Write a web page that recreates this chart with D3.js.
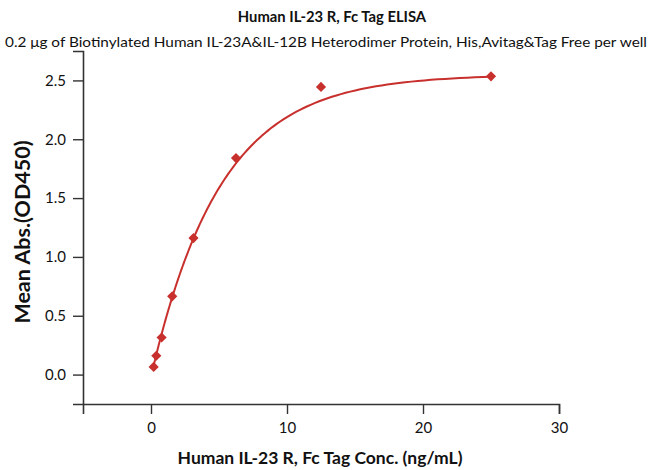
<!DOCTYPE html>
<html>
<head>
<meta charset="utf-8">
<script src="https://cdn.jsdelivr.net/npm/d3@7"></script>
<style>
  body { margin: 0; background: #fff; }
  text { font-family: Lato, "Open Sans", sans-serif; fill: #111; }
</style>
</head>
<body>
<div id="chart"></div>
<script>
// Data
var conc = [0.195, 0.39, 0.78, 1.56, 3.125, 6.25, 12.5, 25];
var meanAbs = [0.065, 0.16, 0.315, 0.665, 1.16, 1.84, 2.445, 2.535];
var xTicks = [0, 10, 20, 30];
var yTicks = [0.0, 0.5, 1.0, 1.5, 2.0, 2.5];
// fitted curve parameters (y = y0 + A * (1 - exp(-x / t)))
var fitY0 = -0.02, fitA = 2.57, fitT = 5.1;

var width = 651, height = 470;
var red = "#c8302d";

var svg = d3.select("#chart").append("svg")
    .attr("width", width)
    .attr("height", height);

var x = d3.scaleLinear().domain([-5, 30]).range([83, 559]);
var y = d3.scaleLinear().domain([-0.25, 2.75]).range([404, 51]);

// titles
svg.append("text")
    .attr("x", 332).attr("y", 22)
    .attr("text-anchor", "middle")
    .style("font-weight", "bold").style("font-size", "14.8px")
    .text("Human IL-23 R, Fc Tag ELISA");

svg.append("text")
    .attr("x", 5).attr("y", 47)
    .attr("textLength", 642).attr("lengthAdjust", "spacingAndGlyphs")
    .style("font-size", "13.5px")
    .text("0.2 \u03bcg of Biotinylated Human IL-23A&IL-12B Heterodimer Protein, His,Avitag&Tag Free per well");

// x axis
var xAxis = svg.append("g").attr("transform", "translate(0,404)");
xAxis.call(d3.axisBottom(x).tickValues(d3.range(-5, 31, 5)).tickSize(5).tickFormat(""));
xAxis.call(d3.axisBottom(x).tickValues(xTicks).tickSize(10).tickPadding(8)
    .tickFormat(d3.format("d")));
xAxis.selectAll("path.domain").attr("stroke", "#333").attr("stroke-width", 1.6);
xAxis.selectAll("line").attr("stroke", "#333").attr("stroke-width", 1.4);
xAxis.selectAll("text").style("font-size", "15px").attr("fill", "#111")
    .style("font-family", "Lato, sans-serif");

// y axis
var yAxis = svg.append("g").attr("transform", "translate(83,0)");
yAxis.call(d3.axisLeft(y).tickValues(d3.range(-0.25, 2.76, 0.25)).tickSize(5).tickFormat(""));
yAxis.call(d3.axisLeft(y).tickValues(yTicks).tickSize(10).tickPadding(7)
    .tickFormat(d3.format(".1f")));
yAxis.selectAll("path.domain").attr("stroke", "#333").attr("stroke-width", 1.6);
yAxis.selectAll("line").attr("stroke", "#333").attr("stroke-width", 1.4);
yAxis.selectAll("text").style("font-size", "15px").attr("fill", "#111")
    .style("font-family", "Lato, sans-serif");

// axis titles
svg.append("text")
    .attr("x", 320).attr("y", 464)
    .attr("text-anchor", "middle")
    .style("font-weight", "bold").style("font-size", "17.5px")
    .text("Human IL-23 R, Fc Tag Conc. (ng/mL)");

svg.append("text")
    .attr("transform", "translate(30,232) rotate(-90)")
    .attr("text-anchor", "middle")
    .style("font-weight", "bold").style("font-size", "21.5px")
    .text("Mean Abs.(OD450)");

// fitted curve
var fitX = d3.range(0, 201).map(function(i) {
    return conc[0] * Math.pow(conc[conc.length - 1] / conc[0], i / 200);
});
var line = d3.line()
    .x(function(d) { return x(d); })
    .y(function(d) { return y(fitY0 + fitA * (1 - Math.exp(-d / fitT))); });

svg.append("path")
    .datum(fitX)
    .attr("d", line)
    .attr("fill", "none")
    .attr("stroke", red)
    .attr("stroke-width", 2);

// points
svg.append("g").selectAll("path")
    .data(conc)
    .enter()
    .append("path")
    .attr("d", d3.symbol().type(d3.symbolDiamond2).size(66))
    .attr("transform", function(d, i) {
        return "translate(" + x(d) + "," + y(meanAbs[i]) + ")";
    })
    .attr("fill", red);
</script>
</body>
</html>
